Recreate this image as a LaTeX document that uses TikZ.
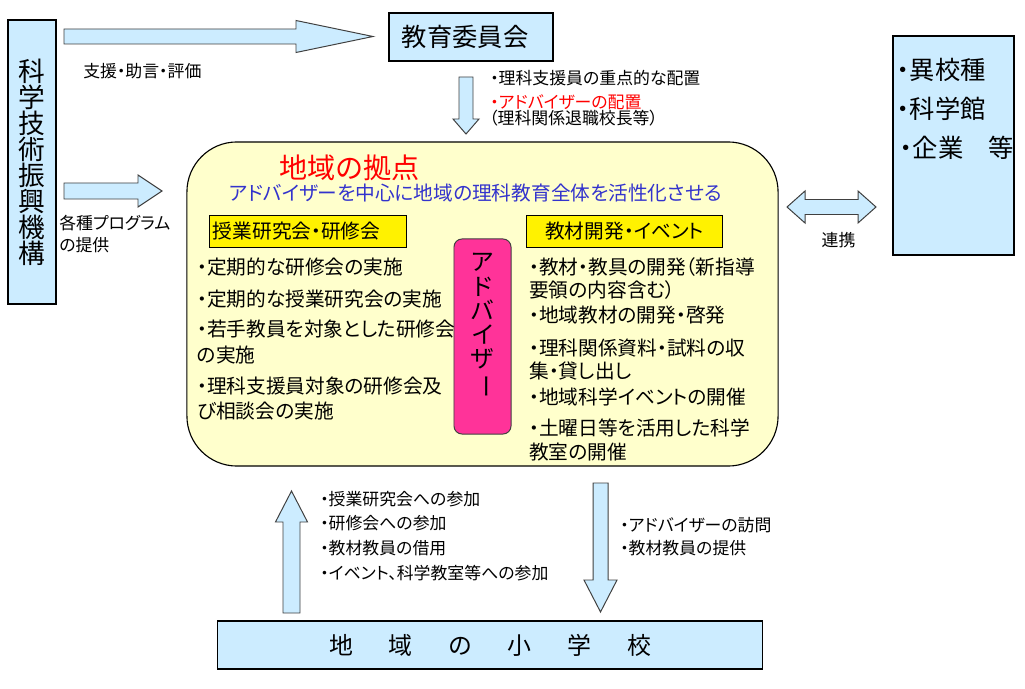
\documentclass[tikz,border=0pt]{standalone}
\usepackage{fontspec}
\setmainfont{Noto Sans CJK JP}[RawFeature=+palt]
\usepackage{graphicx}
\usetikzlibrary{positioning}
\definecolor{skyb}{RGB}{204,236,255}
\definecolor{hubyel}{RGB}{255,255,204}
\definecolor{advpink}{RGB}{255,51,153}
\definecolor{subblue}{RGB}{51,51,204}
\definecolor{arrgray}{RGB}{64,64,64}
\setlength{\lineskiplimit}{-30pt}
\newcommand{\jfs}[2]{\fontsize{#1}{#2}\selectfont}
\newcommand{\fatarr}[6]{%
  \draw[farr, shift={#1}, rotate=#2] (0,-#5) -- ({#3-#4},-#5) -- ({#3-#4},-#6) -- (#3,0)
    -- ({#3-#4},#6) -- ({#3-#4},#5) -- (0,#5) -- cycle;}
\tikzset{
  bbox/.style={draw=black, fill=skyb, inner sep=0pt, line width=0.8pt},
  farr/.style={draw=arrgray, fill=skyb, line width=0.7pt, line join=miter},
  ybox/.style={draw=black, fill=yellow, minimum height=0.8cm, inner sep=0pt, line width=0.7pt, font=\jfs{14}{16}},
  itm/.style={anchor=west, align=left, inner sep=0pt, font=\jfs{14}{18}},
  ritm/.style={itm, font=\jfs{14}{17}},
  lbl/.style={anchor=west, inner sep=0pt, font=\jfs{12}{15.6}},
  otxt/.style={anchor=west, inner sep=0pt, font=\jfs{18}{20}},
}
\begin{document}
\begin{tikzpicture}[x=0.025cm,y=-0.025cm]
\fill[white] (0,0) rectangle (1025,689);
\useasboundingbox (0,0) rectangle (1025,689);
% boxes
\node[bbox, minimum width=1.2cm, minimum height=7.1cm, align=center, font=\jfs{19}{18.5}] (jst) at (32,162)
  {科\\学\\技\\術\\振\\興\\機\\構};
\node[bbox, text width=3.45cm, inner xsep=0.325cm, minimum height=1.2cm, align=left, font=\jfs{18}{20}] (boe) at (471,37) {教育委員会};
\node[bbox, minimum width=3.025cm, minimum height=5.475cm] (others) at (953.5,145.5) {};
\node[otxt] (o1) at (897,70) {・異校種};
\node[otxt] (o2) at (897,109) {・科学館};
\node[otxt] (o3) at (900,148) {・企業　等};
\node[bbox, minimum width=13.6cm, minimum height=1.2cm, font=\jfs{17}{20}] (school) at (490,645)
  {地\hspace{1.5em}域\hspace{1.5em}の\hspace{1.5em}小\hspace{1.5em}学\hspace{1.5em}校};
% hub
\node[draw=black, fill=hubyel, line width=0.8pt, rounded corners=1.25cm, minimum width=14.775cm, minimum height=8.1cm] (hub) at (482.5,304) {};
\node[text=red, font=\jfs{20}{22}, inner sep=0pt] (hubttl) at (349.5,168) {地域の拠点};
\node[text=subblue, font=\jfs{14}{16}, inner sep=0pt, anchor=west] (hubsub) at (229,193) {アドバイザーを中心に地域の理科教育全体を活性化させる};
\node[ybox, text width=4.75cm, inner xsep=0.075cm, align=left] (tbox) at (308,231) {授業研究会・研修会};
\node[ybox, minimum width=4.875cm] (kbox) at (624.5,231) {教材開発・イベント};
\node[draw=arrgray, fill=advpink, line width=0.7pt, rounded corners=0.2cm, minimum width=1.425cm, minimum height=4.875cm] (adv) at (482.5,336.5) {};
\node[align=center, inner sep=0pt, font=\jfs{17}{17.2}] (advtxt) at (482.5,326)
  {ア\\ド\\バ\\イ\\ザ\\\rotatebox[origin=c]{-90}{ー}};
\node[itm] (l1) at (197,267) {・定期的な研修会の実施};
\node[itm] (l2) at (197,299) {・定期的な授業研究会の実施};
\node[itm] (l3) at (197,342) {・若手教員を対象とした研修会\\の実施};
\node[itm] (l4) at (197,398.5) {・理科支援員対象の研修会及\\び相談会の実施};
\node[ritm] (r1) at (529,278.5) {・教材・教具の開発（新指導\\要領の内容含む）};
\node[ritm] (r2) at (529,315) {・地域教材の開発・啓発};
\node[ritm] (r3) at (529,359.5) {・理科関係資料・試料の収\\集・貸し出し};
\node[ritm] (r4) at (529,397) {・地域科学イベントの開催};
\node[ritm] (r5) at (529,440) {・土曜日等を活用した科学\\教室の開催};
% block arrows
\fatarr{(64,36.5)}{0}{309}{77}{7.5}{16}
\fatarr{(64,191)}{0}{98}{24}{8}{16}
\fatarr{(466,77)}{-90}{57}{15}{7}{13}
\fatarr{(291.5,613)}{90}{122}{31}{8.5}{16}
\fatarr{(600.5,483)}{-90}{129}{32}{7.5}{16.5}
\draw[farr] (787,207) -- (805,191) -- (805,199.5) -- (858,199.5) -- (858,191) -- (876,207)
  -- (858,223) -- (858,214.5) -- (805,214.5) -- (805,223) -- cycle;
% labels
\node[lbl] (sup) at (83,71) {支援・助言・評価};
\node[lbl, align=left] (prog) at (59,234) {各種プログラム\\の提供};
\node[lbl] (b1) at (490,78) {・理科支援員の重点的な配置};
\node[lbl, text=red] (b2) at (490,102) {・アドバイザーの配置};
\node[lbl] (b3) at (489,118) {（理科関係退職校長等）};
\node[lbl, anchor=center] (rel) at (838.5,240) {連携};
\node[lbl] (u1) at (320,499) {・授業研究会への参加};
\node[lbl] (u2) at (320,523) {・研修会への参加};
\node[lbl] (u3) at (320,548) {・教材教員の借用};
\node[lbl] (u4) at (320,573) {・イベント、科学教室等への参加};
\node[lbl] (d1) at (620,525) {・アドバイザーの訪問};
\node[lbl] (d2) at (620,548) {・教材教員の提供};
\end{tikzpicture}
\end{document}
